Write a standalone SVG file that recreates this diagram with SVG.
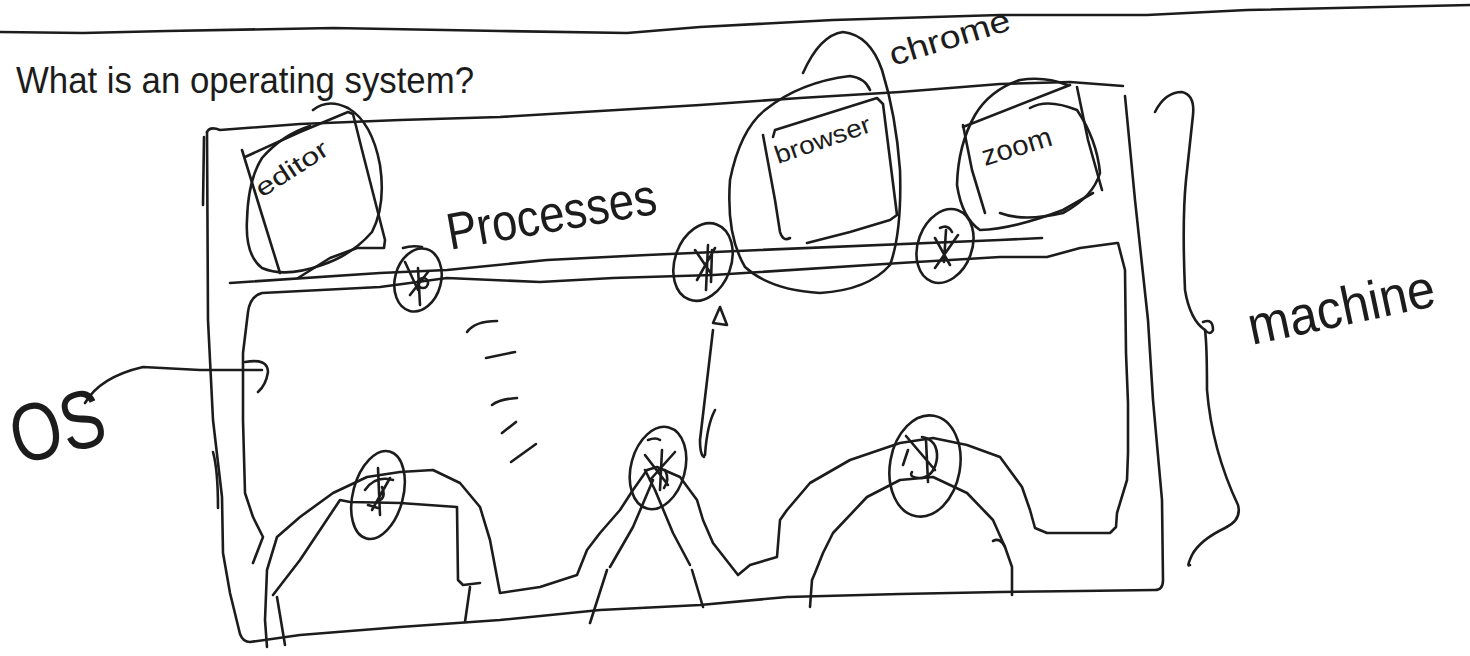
<svg xmlns="http://www.w3.org/2000/svg" width="1470" height="656" viewBox="0 0 1470 656">
<style>
.s{fill:none;stroke:#1c1c1c;stroke-width:2.6;stroke-linecap:round;stroke-linejoin:round}
.t{font-family:"Liberation Sans",Arial,sans-serif;fill:#1c1c1c}
</style>
<rect width="1470" height="656" fill="#fff"/>
<g id="page-rule"><path class="s" d="M0 32 L83 33 L167 31 L333 28 L500 31 L627 33 L700 27 L833 20 L1000 15 L1147 15 L1247 10 L1470 5"/></g>
<g id="title"><text class="t" x="16" y="93" font-size="36" textLength="458" lengthAdjust="spacingAndGlyphs">What is an operating system?</text></g>
<g id="machine-box">
<path class="s" d="M207 132 Q210 126 220 130 L300 124 L400 120 L500 117 L600 111 L700 105 L800 98 L900 92 L1000 84 L1070 82 L1123 86"/>
<path class="s" d="M1125 96 L1135 200 L1148 320 L1153 400 L1162 500 L1163 580 Q1163 590 1155 590 L1080 591 L1000 592 L900 594 L787 597 L700 605 L600 610 L500 620 L400 627 L300 635 L250 642 Q243 642 240 634 L230 593 L223 553 L222 497 L213 420 L208 320 L207 132"/>
<path class="s" d="M204 137 L203 205"/>
<path class="s" d="M213 452 Q218 470 218 508"/>
</g>
<g id="processes-divider">
<path class="s" d="M230 283 L380 273 L447 270 L547 260 L647 255 L760 250 L1000 240 L1042 238"/>
</g>
<g id="os-region">
<path class="s" d="M1117 243 L1080 248 L1047 257 L1000 257 L900 263 L760 272 L713 275 L613 278 L540 282 L447 278 L380 287 L262 293 Q250 296 248 312 L243 353 L243 420 L245 493 L253 517 L263 537 L253 563"/>
<path class="s" d="M1118 243 L1125 270 L1126 353 L1128 403 L1128 453 L1127 480 L1117 513 L1116 527 L1110 533 L1047 533 L1035 528 L1030 510 L1022 487 L1000 457 L967 445 L933 438 L900 443 L850 460 L810 483 L787 510 L780 520 L777 557 L750 565 L738 575 L713 543 L703 520 L697 500 L680 477 L657 467 L647 470 L633 490 L620 510 L600 533 L587 550 L577 575 L540 587 L500 593 L490 540 L480 507 L460 483 L433 470 L400 472 L367 477 L333 493 L300 517 L277 537 L267 570 L265 620 L267 647"/>
<path class="s" d="M273 595 L300 560 L340 500 L350 502 L400 503 L457 507 L458 580 L463 585 L480 583"/>
<path class="s" d="M470 587 L465 622"/>
<path class="s" d="M277 597 L285 645"/>
<path class="s" d="M590 623 L607 570 M610 567 L633 527 L653 480"/>
<path class="s" d="M703 607 L692 570 M690 565 L673 533 L655 490 L645 470"/>
<path class="s" d="M810 607 L812 580 L815 573 L823 553 L833 533 L867 497 L900 480 L933 477 L967 493 L993 520 L1005 547 L1012 567 L1012 595"/>
<path class="s" d="M993 541 Q1000 537 1005 547"/>
</g>
<g id="editor">
<path class="s" d="M242 150 L262 215 L280 273"/>
<path class="s" d="M245 157 L300 132 L348 112 L353 114 L362 150 L385 240 L384 248 L357 248 L330 258 L298 278"/>
<path class="s" d="M313 110 Q328 98 348 108 Q372 122 380 165 Q386 205 372 232 Q352 255 322 265 Q285 278 262 268 Q245 255 247 220 Q248 180 262 158 Q282 135 310 126"/>
<text class="t" x="262" y="198" font-size="25" transform="rotate(-33 262 198)" textLength="82" lengthAdjust="spacingAndGlyphs">editor</text>
</g>
<g id="processes-label"><text class="t" x="450" y="250" font-size="52" transform="rotate(-10 450 250)" textLength="212" lengthAdjust="spacingAndGlyphs">Processes</text></g>
<g id="browser">
<path class="s" d="M763 135 L775 200 L780 232 Q783 242 790 238"/>
<path class="s" d="M773 137 L775 130 L877 98 L883 104 L897 215 L890 220 L850 232 L807 243"/>
<path class="s" d="M803 73 Q820 35 843 32 Q870 35 882 70 Q896 115 900 170 Q902 232 890 265 Q868 290 820 293 Q770 290 745 267 Q726 235 730 180 Q740 130 765 110 Q800 82 850 76 Q865 78 870 90"/>
<text class="t" x="778" y="164" font-size="25" transform="rotate(-19 778 164)" textLength="100" lengthAdjust="spacingAndGlyphs">browser</text>
</g>
<g id="chrome-label"><text class="t" x="893" y="66" font-size="32" transform="rotate(-17 893 66)" textLength="125" lengthAdjust="spacingAndGlyphs">chrome</text></g>
<g id="zoom">
<path class="s" d="M963 127 L1070 85 M1077 87 L1088 140 L1102 190"/>
<path class="s" d="M963 125 L972 170 L985 213"/>
<path class="s" d="M1067 85 Q1045 76 1020 80 Q990 90 975 115 Q958 145 957 185 Q962 218 980 230 Q1013 229 1063 210 L1093 193"/>
<path class="s" d="M1030 108 Q1047 98 1077 110 Q1097 140 1100 173 Q1093 197 1063 213 Q1023 222 1000 213"/>
<text class="t" x="985" y="166" font-size="28" transform="rotate(-17 985 166)" textLength="72" lengthAdjust="spacingAndGlyphs">zoom</text>
</g>
<g id="wheels">
<g id="w1"><ellipse class="s" cx="418" cy="280" rx="23" ry="32" transform="rotate(15 418 280)"/><path class="s" d="M403 248 Q412 245 422 247 M405 262 L418 290 M428 272 L410 295 M418 268 L420 305"/><circle class="s" cx="423" cy="283" r="5"/></g>
<g id="w2"><ellipse class="s" cx="703" cy="262" rx="28" ry="40" transform="rotate(20 703 262)"/><path class="s" d="M695 250 L712 275 M715 248 L697 280 M708 245 L706 290 M712 250 L711 282"/></g>
<g id="w3"><ellipse class="s" cx="945" cy="246" rx="27" ry="38" transform="rotate(20 945 246)"/><path class="s" d="M935 238 L950 265 M958 235 L935 268 M946 230 L944 262 M940 228 Q948 224 952 232"/></g>
<g id="w4"><ellipse class="s" cx="378" cy="495" rx="25" ry="45" transform="rotate(15 378 495)"/><path class="s" d="M365 490 Q375 475 393 480 M378 468 L380 515 M390 478 L372 510 M368 505 L378 508 M382 487 Q386 497 380 500"/></g>
<g id="w5"><ellipse class="s" cx="658" cy="468" rx="27" ry="42" transform="rotate(15 658 468)"/><path class="s" d="M645 455 L668 485 M675 452 L650 480 M662 450 L660 490 M648 440 Q656 437 660 440 M665 470 Q670 480 664 488"/></g>
<g id="w6"><ellipse class="s" cx="925" cy="466" rx="35" ry="51" transform="rotate(10 925 466)"/><path class="s" d="M906 436 L935 470 M922 437 Q938 440 937 458 Q935 475 922 478 Q908 478 912 472 M908 450 L903 465 M926 440 L928 482"/></g>
</g>
<g id="os-label"><text class="t" x="18" y="465" font-size="82" transform="rotate(-14 18 465)" textLength="95" lengthAdjust="spacingAndGlyphs">OS</text></g>
<g id="machine-label"><text class="t" x="1252" y="345" font-size="54" transform="rotate(-12 1252 345)" textLength="190" lengthAdjust="spacingAndGlyphs">machine</text></g>
<g id="connectors">
<path class="s" d="M85 403 Q100 377 143 367 L200 370 L262 370"/>
<path class="s" d="M245 362 Q268 358 268 372 Q266 385 258 392"/>
<path class="s" d="M713 323 L720 307 L727 325 Z"/>
<path class="s" d="M713 330 L700 440 Q700 455 704 457 M715 410 Q707 425 705 455"/>
<path class="s" d="M1155 112 Q1165 92 1182 92 Q1195 95 1193 115 L1186 180 Q1182 220 1185 290 Q1190 320 1205 330 Q1207 345 1207 390 Q1212 450 1238 505 Q1242 520 1225 528 Q1200 540 1192 555 Q1186 568 1190 565"/>
<path class="s" d="M1203 322 Q1213 318 1213 330 Q1210 336 1205 330"/>
</g>
<g id="strokes">
<path class="s" d="M467 332 Q475 321 497 321"/>
<path class="s" d="M486 358 L515 352"/>
<path class="s" d="M492 405 Q500 399 517 398"/>
<path class="s" d="M502 433 L516 422"/>
<path class="s" d="M511 462 L536 444"/>
</g>
</svg>
